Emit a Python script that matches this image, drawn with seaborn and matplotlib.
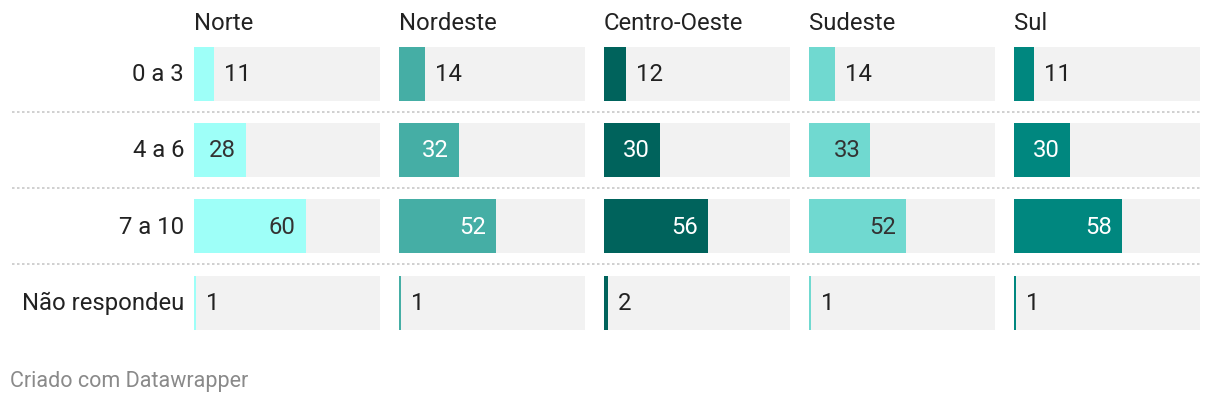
import matplotlib
matplotlib.use("Agg")
import matplotlib.pyplot as plt
import seaborn as sns
import pandas as pd
from matplotlib.lines import Line2D

sns.set_theme(style="white")
plt.rcParams['font.family'] = ['Roboto', 'DejaVu Sans']

categories = ["0 a 3", "4 a 6", "7 a 10", "Não respondeu"]
regions = ["Norte", "Nordeste", "Centro-Oeste", "Sudeste", "Sul"]
norte = [11, 28, 60, 1]
nordeste = [14, 32, 52, 1]
centro_oeste = [12, 30, 56, 2]
sudeste = [14, 33, 52, 1]
sul = [11, 30, 58, 1]
series = [norte, nordeste, centro_oeste, sudeste, sul]

colors = ["#9efff8", "#45aea5", "#00635c", "#70d9d0", "#00877f"]
inside_text = ["#333333", "white", "white", "#333333", "white"]

W, H = 1220, 406
fig = plt.figure(figsize=(W / 100, H / 100), dpi=100)

pitch = (303.5 - 74.5) / 3
top_px = 74.5 - pitch / 2
bot_px = 303.5 + pitch / 2
ax_bottom = 1 - bot_px / H
ax_height = (bot_px - top_px) / H

panel_x = [194, 399, 604, 809, 1014]
panel_w = 186
FS = 17.2

for i, (name, vals) in enumerate(zip(regions, series)):
    ax = fig.add_axes([panel_x[i] / W, ax_bottom, panel_w / W, ax_height])
    df = pd.DataFrame({"cat": categories, "val": vals, "bg": [100] * len(categories)})
    sns.barplot(data=df, y="cat", x="bg", orient="h", color="#f2f2f2",
                width=54 / pitch, ax=ax, saturation=1, linewidth=0)
    sns.barplot(data=df, y="cat", x="val", orient="h", color=colors[i],
                width=54 / pitch, ax=ax, saturation=1, linewidth=0)
    ax.set_xlim(0, 100)
    ax.set_ylim(3.5, -0.5)
    ax.set_xlabel("")
    ax.set_ylabel("")
    ax.set_xticks([])
    ax.set_yticks([])
    for s in ax.spines.values():
        s.set_visible(False)
    ax.patch.set_alpha(0)
    for j, v in enumerate(vals):
        if v >= 20:
            ax.annotate(str(v), (v, j), xytext=(-10, 0), textcoords="offset pixels",
                        ha="right", va="center", fontsize=FS, color=inside_text[i])
        else:
            ax.annotate(str(v), (v, j), xytext=(10, 0), textcoords="offset pixels",
                        ha="left", va="center", fontsize=FS, color="#222222")
    fig.text(panel_x[i] / W, 1 - 24 / H, name, ha="left", va="center",
             fontsize=FS, color="#222222")

# row labels
for j, c in enumerate(categories):
    y = 74.5 + j * pitch
    fig.text(184 / W, 1 - y / H, c, ha="right", va="center", fontsize=FS, color="#222222")

# dotted separators
for j in range(3):
    y = 74.5 + (j + 0.5) * pitch
    fig.add_artist(Line2D([12 / W, 1200 / W], [1 - y / H, 1 - y / H], transform=fig.transFigure,
                          color="#c8c8c8", lw=1.2, linestyle=(0, (1.5, 1.5))))

fig.text(10 / W, 1 - 382 / H, "Criado com Datawrapper", ha="left", va="center",
         fontsize=15.5, color="#8a8a8a")

fig.savefig("out.png", dpi=100)
